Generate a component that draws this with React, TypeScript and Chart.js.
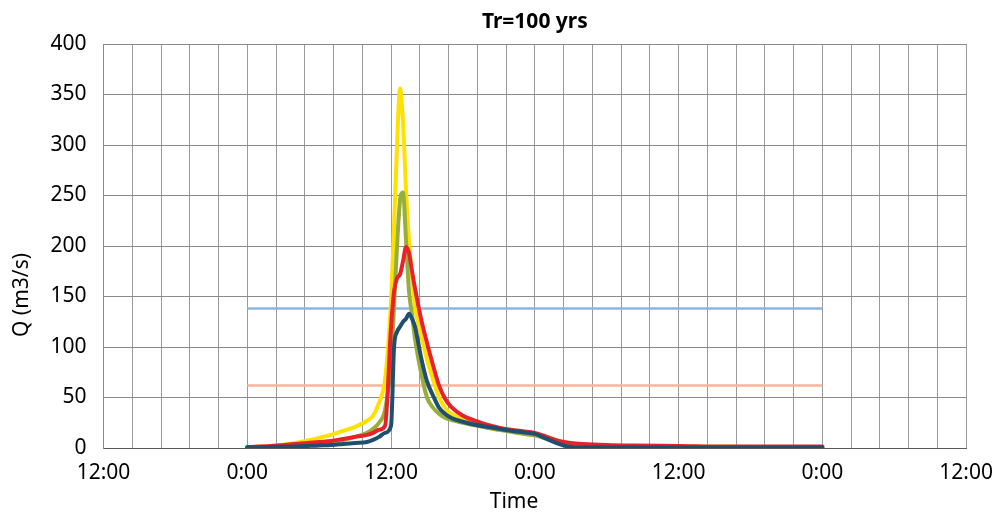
import React, { useEffect, useRef } from "react";
import { Chart, registerables } from "chart.js";

Chart.register(...registerables);

// Hours measured from the first "12:00" on the x axis
const hours = [12, 14, 16, 18, 19, 20, 21, 22, 22.5, 23, 23.5, 24, 24.25, 24.5, 24.75, 25, 25.25, 25.5, 25.75, 26, 26.5, 27, 27.5, 28, 28.5, 29, 30, 31, 32, 33, 34, 35, 36, 37, 38, 39, 40, 42, 44, 48, 52, 56, 60];

const yellowQ = [1, 2, 5, 10, 13, 17, 21, 27, 32, 45, 68, 146, 220, 300, 356, 322, 255, 205, 170, 140, 112, 88, 68, 50, 40, 34, 29, 25, 22, 19.5, 17.5, 16, 14, 11, 7, 4.5, 3.5, 2.5, 2, 1.5, 1.2, 1, 1];
const greenQ = [0.5, 1, 3, 5, 6, 8, 11, 15, 19, 25, 38, 85, 140, 200, 245, 253, 205, 155, 132, 108, 75, 50, 40, 34, 30, 28, 25, 22.5, 20, 18, 16, 14, 12.5, 9, 5, 2.5, 1.5, 1, 1, 1, 1, 1, 1];
const redQ = [1, 2, 4, 6, 7, 9, 11, 13, 15, 18, 22, 120, 155, 168, 172, 185, 199, 193, 175, 158, 128, 104, 82, 62, 49, 41, 32, 27, 23, 20, 18, 16.5, 15, 11, 7, 5, 4, 3, 2.5, 2, 1.5, 1.5, 1.5];
const blueQ = [0.5, 1, 1.5, 2.5, 3, 4, 5, 6, 8, 11, 15, 22, 100, 115, 120, 125, 128, 133, 128, 120, 90, 66, 52, 40, 34, 30, 26, 23, 21, 19, 17, 15.5, 14, 9, 4, 1, 0.5, 0.5, 0.5, 0.5, 0.5, 0.5, 0.5];

const thresholdHours = [12, 60];
const upperThreshold = [138, 138];
const lowerThreshold = [62, 62];

const xTickLabels = ["12:00", "0:00", "12:00", "0:00", "12:00", "0:00", "12:00"];
const yTicks = [0, 50, 100, 150, 200, 250, 300, 350, 400];

const chartTitle = "Tr=100 yrs";
const xAxisTitle = "Time";
const yAxisTitle = "Q (m3/s)";

const FONT = "'Noto Sans', 'Open Sans', sans-serif";

function pts(xs: number[], ys: number[]) {
  return xs.map((x, i) => ({ x, y: ys[i] }));
}

const axisTitlePlugin = {
  id: "axisTitles",
  afterDraw(chart: any) {
    const ctx = chart.ctx;
    ctx.save();
    ctx.fillStyle = "#000";
    ctx.font = `21px ${FONT}`;
    ctx.textAlign = "center";
    ctx.textBaseline = "middle";
    ctx.fillText(xAxisTitle, 514, 502);
    ctx.translate(22, 295);
    ctx.rotate(-Math.PI / 2);
    ctx.fillText(yAxisTitle, 0, 0);
    ctx.restore();
  },
};

export default function App() {
  const ref = useRef<HTMLCanvasElement | null>(null);

  useEffect(() => {
    if (!ref.current) return;
    const curve = (data: any, color: string) => ({
      data,
      borderColor: color,
      backgroundColor: color,
      borderWidth: 4,
      pointRadius: 0,
      cubicInterpolationMode: "monotone" as const,
      borderCapStyle: "round" as const,
      borderJoinStyle: "round" as const,
      fill: false,
    });
    const flat = (data: any, color: string) => ({
      data,
      borderColor: color,
      backgroundColor: color,
      borderWidth: 2.5,
      pointRadius: 0,
      fill: false,
    });
    const chart = new Chart(ref.current, {
      type: "line",
      data: {
        datasets: [
          curve(pts(hours, blueQ), "#1F4E6E"),
          curve(pts(hours, redQ), "#E8212A"),
          curve(pts(hours, greenQ), "#98AE3C"),
          curve(pts(hours, yellowQ), "#FFE100"),
          flat(pts(thresholdHours, upperThreshold), "#8EB4E3"),
          flat(pts(thresholdHours, lowerThreshold), "#F9B49B"),
        ],
      },
      plugins: [axisTitlePlugin],
      options: {
        animation: false,
        responsive: false,
        layout: { padding: { left: 0, right: 38, top: 0, bottom: 0 } },
        plugins: {
          legend: { display: false },
          tooltip: { enabled: false },
          title: {
            display: true,
            text: chartTitle,
            fullSize: false,
            color: "#000",
            font: { family: FONT, size: 21, weight: "bold" },
            padding: { top: 9, bottom: 9.8 },
          },
        },
        scales: {
          x: {
            type: "linear",
            min: 0,
            max: 72,
            afterBuildTicks: (scale: any) => {
              scale.ticks = Array.from({ length: 31 }, (_, i) => ({ value: i * 2.4 }));
            },
            afterFit: (scale: any) => {
              scale.height = 66;
            },
            ticks: {
              autoSkip: false,
              maxRotation: 0,
              minRotation: 0,
              padding: 12,
              color: "#000",
              font: { family: FONT, size: 21 },
              callback: (_v: any, i: number) => (i % 5 === 0 ? xTickLabels[i / 5] : ""),
            },
            grid: { color: "#9a9a9a", lineWidth: 1, drawTicks: false },
            border: { color: "#5a5a5a", width: 1 },
            title: { display: false },
          },
          y: {
            type: "linear",
            min: 0,
            max: 400,
            afterBuildTicks: (scale: any) => {
              scale.ticks = yTicks.map((v) => ({ value: v }));
            },
            afterFit: (scale: any) => {
              scale.width = 103.5;
            },
            ticks: {
              padding: 17,
              color: "#000",
              font: { family: FONT, size: 21 },
            },
            grid: { color: "#8a8a8a", lineWidth: 1, drawTicks: false },
            border: { color: "#8a8a8a", width: 1 },
            title: { display: false },
          },
        },
      },
    });
    return () => chart.destroy();
  }, []);

  return (
    <canvas
      ref={ref}
      width={1005}
      height={514}
      style={{ position: "absolute", left: 0, top: 0, display: "block" }}
    />
  );
}
